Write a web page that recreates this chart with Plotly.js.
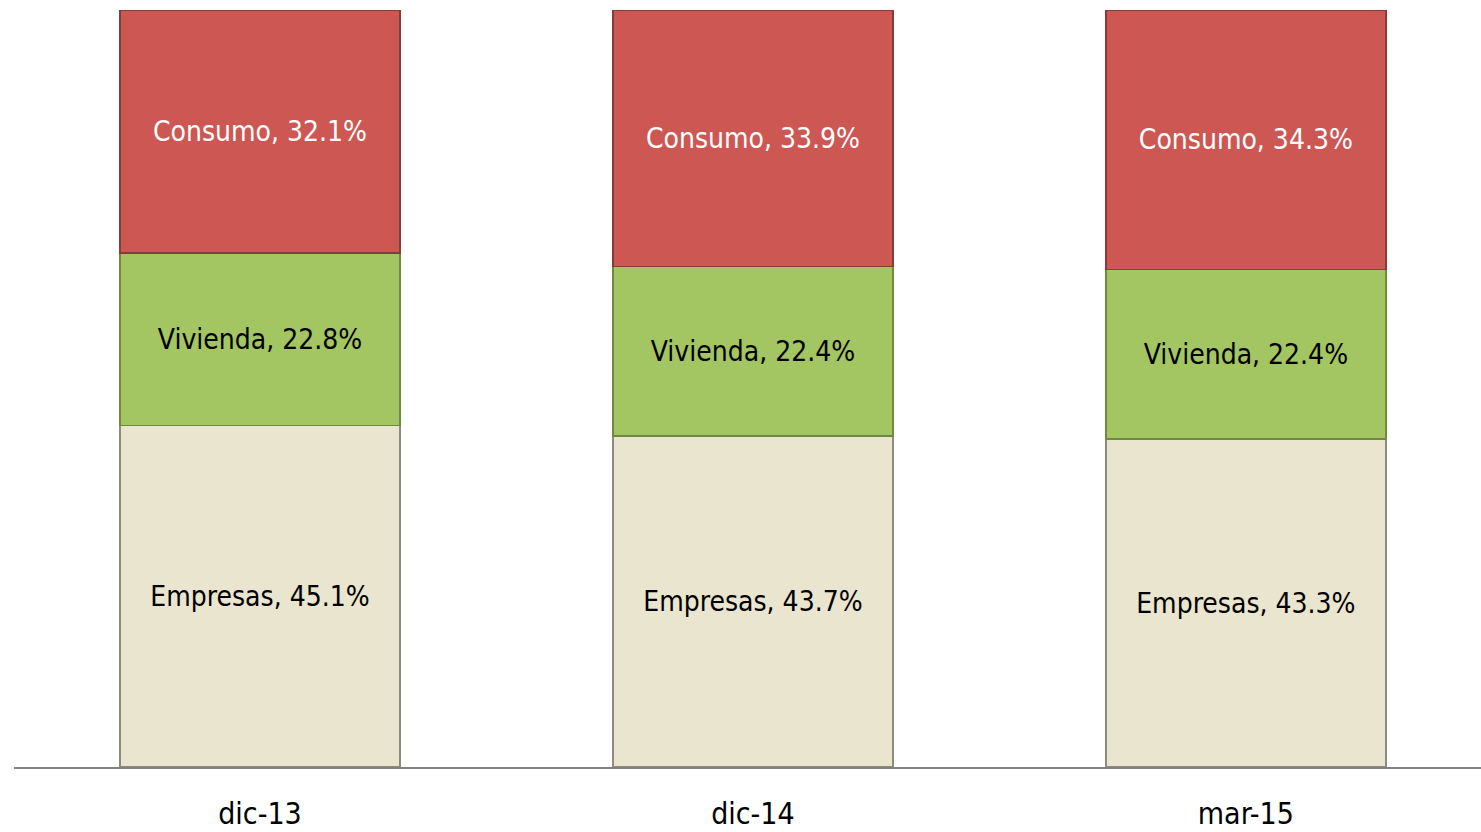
<!DOCTYPE html>
<html>
<head>
<meta charset="utf-8">
<script src="https://cdn.plot.ly/plotly-3.0.1.min.js"></script>
<style>html,body{margin:0;padding:0;background:#fff;}#chart{width:1481px;height:832px;}</style>
</head>
<body>
<div id="chart"></div>
<script>
const categories = ["dic-13", "dic-14", "mar-15"];
const seriesNames = ["Empresas", "Vivienda", "Consumo"];
const empresas = [45.1, 43.7, 43.3];
const vivienda = [22.8, 22.4, 22.4];
const consumo = [32.1, 33.9, 34.3];

const FONT = "'Liberation Sans Narrow', 'Arial Narrow', 'DejaVu Sans Condensed', 'Roboto Condensed', sans-serif";

function mk(name, vals, fill, line, txtColor) {
  return {
    type: "bar",
    name: name,
    x: categories,
    y: vals,
    text: vals.map(v => name + ", " + v.toFixed(1) + "%"),
    textposition: "inside",
    insidetextanchor: "middle",
    textangle: 0,
    constraintext: "none",
    textfont: {family: FONT, size: 28, color: txtColor},
    marker: {color: fill, line: {color: line, width: 1.5}},
    hoverinfo: "skip"
  };
}

const data = [
  mk(seriesNames[0], empresas, "#EAE5CF", "#8f8b7c", "#000000"),
  mk(seriesNames[1], vivienda, "#A3C562", "#6f8a3e", "#000000"),
  mk(seriesNames[2], consumo, "#CD5753", "#8a3a37", "#FFFFFF")
];

const layout = {
  width: 1481,
  height: 832,
  barmode: "stack",
  bargap: 0.432,
  showlegend: false,
  paper_bgcolor: "#ffffff",
  plot_bgcolor: "#ffffff",
  margin: {l: 14, r: 0, t: 10, b: 65},
  xaxis: {
    type: "category",
    range: [-0.499, 2.477],
    showline: true,
    linecolor: "#808080",
    linewidth: 2,
    ticks: "",
    showgrid: false,
    zeroline: false,
    tickfont: {family: FONT, size: 30, color: "#000000"},
    ticklabelstandoff: 19
  },
  yaxis: {
    range: [0, 100],
    visible: false,
    showgrid: false,
    zeroline: false
  }
};

Plotly.newPlot("chart", data, layout, {displayModeBar: false, staticPlot: true});
</script>
</body>
</html>
